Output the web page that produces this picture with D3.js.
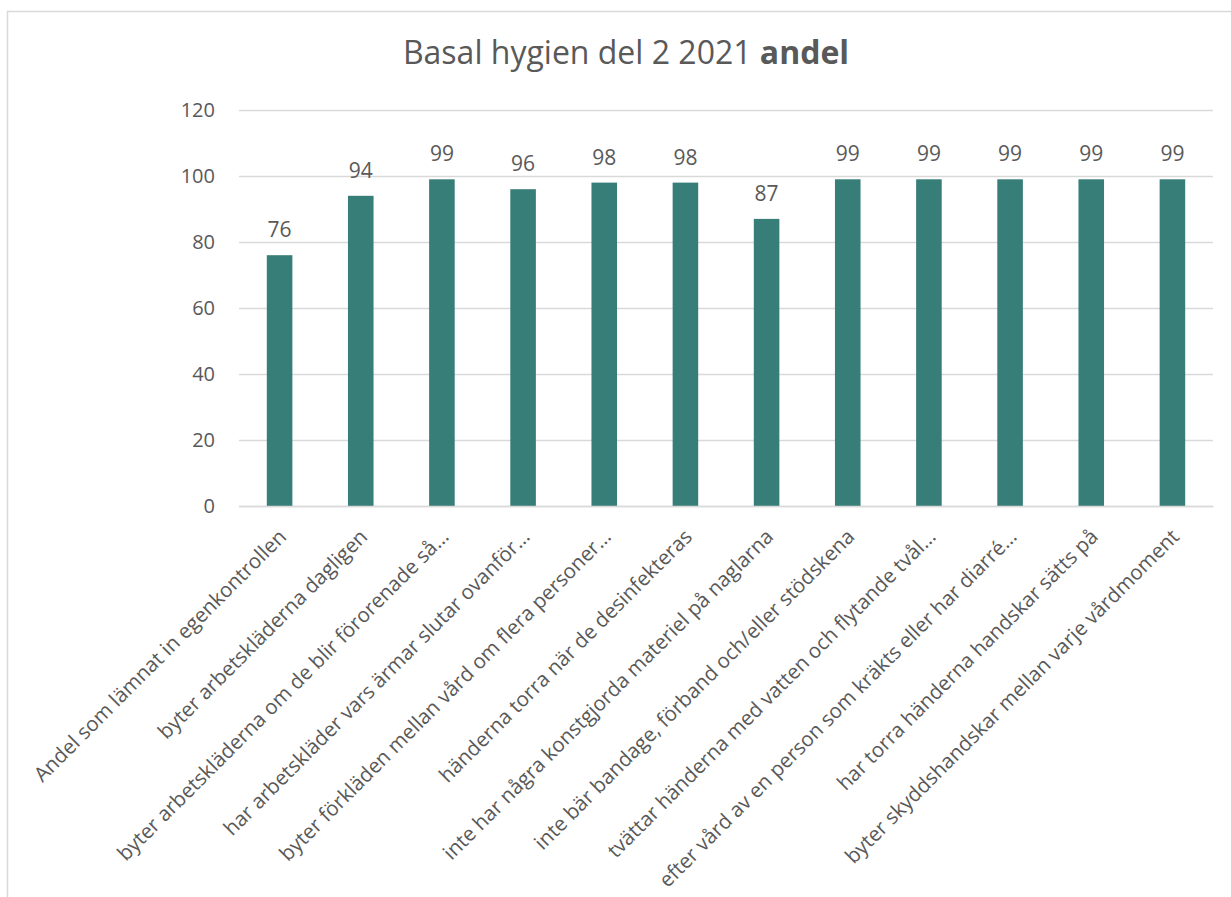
<!DOCTYPE html>
<html>
<head>
<meta charset="utf-8">
<script src="https://cdn.jsdelivr.net/npm/d3@7"></script>
<style>
  html, body { margin: 0; padding: 0; background: #fff; }
  svg { display: block; font-family: "Open Sans", "Noto Sans", sans-serif; }
</style>
</head>
<body>
<svg id="chart" width="1231" height="897"></svg>
<script>
// Share of units meeting each basic-hygiene criterion (part 2, 2021)
const categories = [
  "Andel som lämnat in egenkontrollen",
  "byter arbetskläderna dagligen",
  "byter arbetskläderna om de blir förorenade så…",
  "har arbetskläder vars ärmar slutar ovanför…",
  "byter förkläden mellan vård om flera personer…",
  "händerna torra när de desinfekteras",
  "inte har några konstgjorda materiel på naglarna",
  "inte bär bandage, förband och/eller stödskena",
  "tvättar händerna med vatten och flytande tvål…",
  "efter vård av en person som kräkts eller har diarré…",
  "har torra händerna handskar sätts på",
  "byter skyddshandskar mellan varje vårdmoment"
];
const values = [76, 94, 99, 96, 98, 98, 87, 99, 99, 99, 99, 99];
const yTicks = [0, 20, 40, 60, 80, 100, 120];

const textColor = "#595959";
const gridColor = "#D9D9D9";
const barColor = "#377D78";

const svg = d3.select("#chart");

// Outer chart frame
svg.append("rect")
  .attr("x", 7.5).attr("y", 11.5)
  .attr("width", 1400).attr("height", 1000)
  .attr("fill", "#fff")
  .attr("stroke", gridColor).attr("stroke-width", 1.5);

const plot = { left: 239, right: 1213, top: 110, bottom: 506 };

const x = d3.scaleBand()
  .domain(categories)
  .range([plot.left, plot.right])
  .paddingInner(0.685)
  .paddingOuter(0.3425);

const y = d3.scaleLinear()
  .domain([0, 120])
  .range([plot.bottom, plot.top]);

// Title
const title = svg.append("text")
  .attr("x", 626).attr("y", 64)
  .attr("text-anchor", "middle")
  .attr("fill", textColor)
  .attr("font-size", 32);
title.append("tspan").text("Basal hygien del 2 2021 ");
title.append("tspan").attr("font-weight", "bold").text("andel");

// Horizontal gridlines and y tick labels
const yAxis = d3.axisLeft(y)
  .tickValues(yTicks)
  .tickSize(-(plot.right - plot.left))
  .tickPadding(24)
  .tickFormat(d3.format("d"));

const gy = svg.append("g")
  .attr("transform", `translate(${plot.left},0)`)
  .call(yAxis);
gy.select(".domain").remove();
gy.selectAll(".tick line")
  .attr("stroke", gridColor)
  .attr("stroke-width", 1.5);
gy.selectAll(".tick text")
  .attr("fill", textColor)
  .attr("font-size", 20)
  .attr("font-family", "Open Sans, sans-serif");

// Bars
svg.append("g")
  .selectAll("rect")
  .data(values)
  .join("rect")
  .attr("x", (d, i) => x(categories[i]))
  .attr("y", d => y(d))
  .attr("width", x.bandwidth())
  .attr("height", d => y(0) - y(d))
  .attr("fill", barColor);

// Value labels
svg.append("g")
  .selectAll("text")
  .data(values)
  .join("text")
  .attr("x", (d, i) => x(categories[i]) + x.bandwidth() / 2)
  .attr("y", d => y(d) - 18)
  .attr("text-anchor", "middle")
  .attr("fill", textColor)
  .attr("font-size", 21)
  .text(d => d);

// Category axis (labels rotated -45°)
const xAxis = d3.axisBottom(x).tickSize(0).tickPadding(0);
const gx = svg.append("g")
  .attr("transform", `translate(0,${plot.bottom})`)
  .call(xAxis);
gx.select(".domain")
  .attr("stroke", gridColor)
  .attr("stroke-width", 1.5);
gx.selectAll(".tick text")
  .attr("fill", textColor)
  .attr("font-size", 20.5)
  .attr("font-family", "Open Sans, sans-serif")
  .attr("text-anchor", "end")
  .attr("dy", 0)
  .attr("y", 0)
  .attr("transform", "translate(8,32) rotate(-45)");
</script>
</body>
</html>
